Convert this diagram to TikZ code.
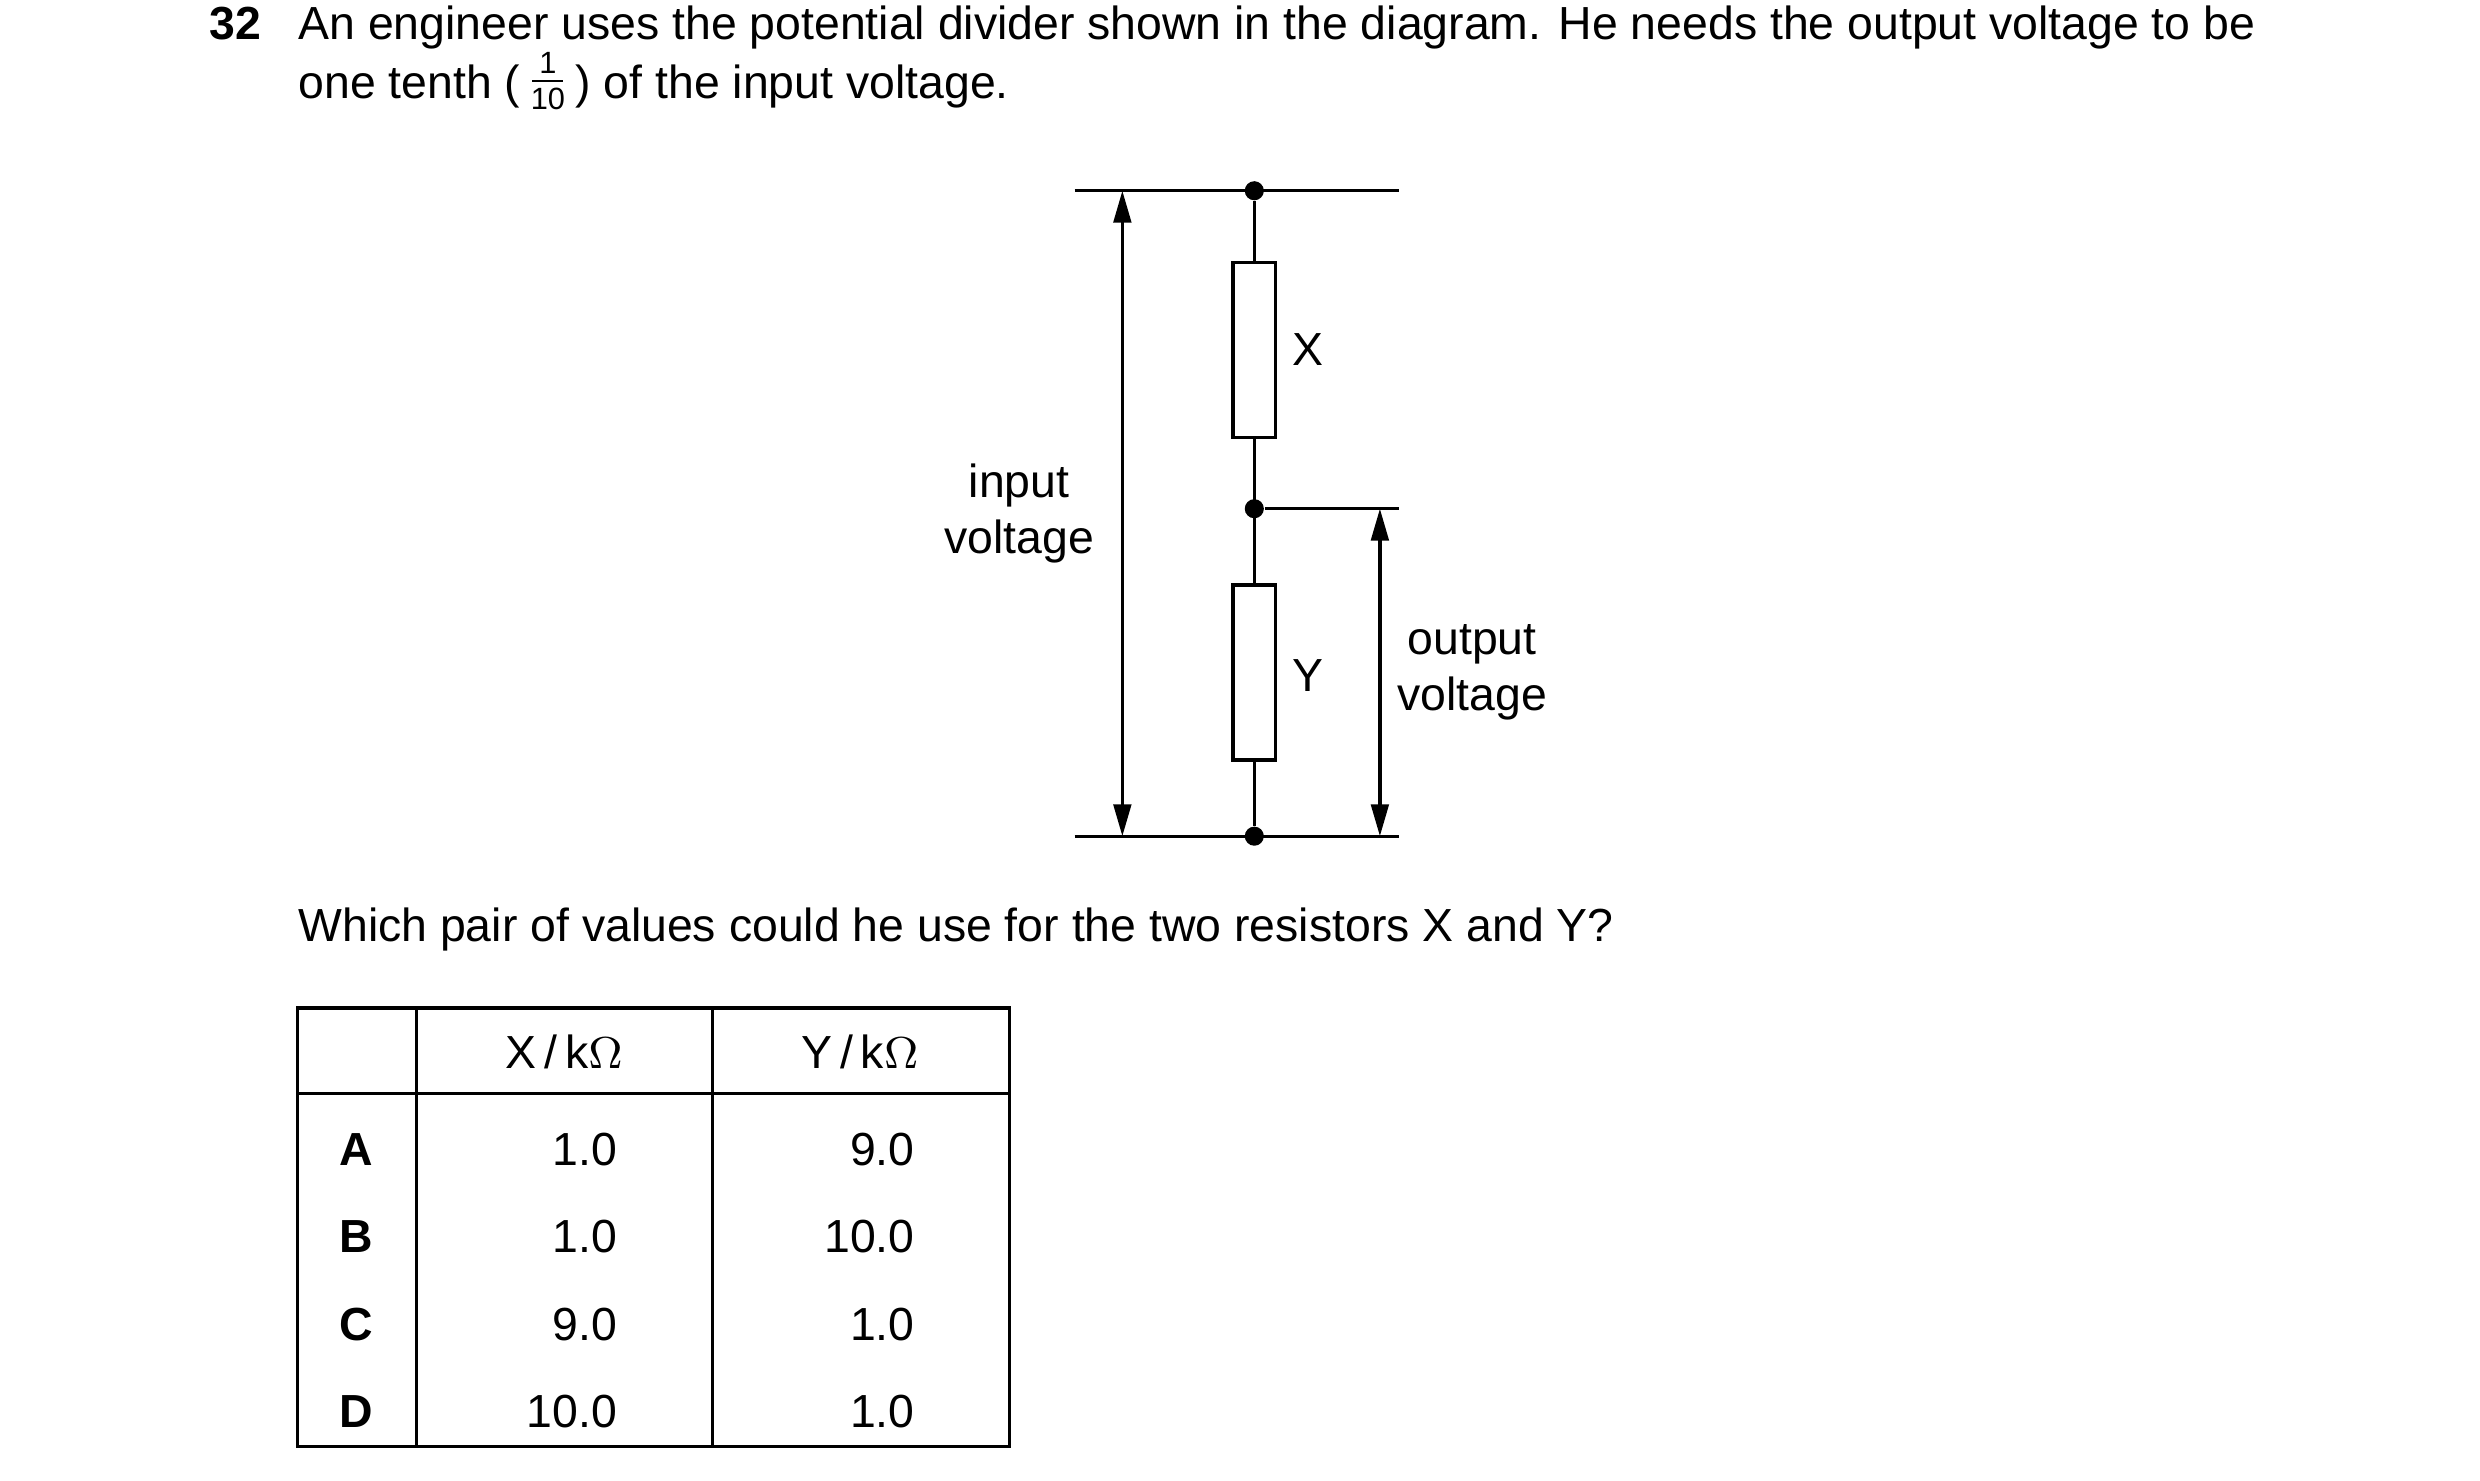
\documentclass[tikz,border=0pt]{standalone}
\usepackage{fontspec}
\setmainfont{Liberation Sans}
\usetikzlibrary{arrows.meta}
\newcommand{\tfrac}[2]{\raisebox{-0.45ex}{\tikz[baseline]{\node[inner sep=0.5pt,font=\fontsize{5.5}{6}\selectfont,align=center] (fr) {#1\\[0.5pt]#2};\draw[line width=0.3pt] ([xshift=1pt]fr.west) -- ([xshift=-1pt]fr.east);}}}
\begin{document}
\begin{tikzpicture}[x=0.01cm,y=-0.01cm,
    txt/.style={inner sep=0pt,font=\fontsize{8.3}{10}\selectfont},
    res/.style={draw,semithick,fill=white,minimum width=0.27cm,minimum height=1.1cm,inner sep=0pt},
    dot/.style={circle,fill,inner sep=0pt,minimum size=0.12cm},
    volt/.style={semithick,{Triangle[length=0.2cm,width=0.11cm]}-{Triangle[length=0.2cm,width=0.11cm]}}]
    \useasboundingbox (0,0) rectangle (1560,931.6);
    % question
    \node[txt,anchor=base west,font=\fontsize{8.3}{10}\selectfont\bfseries] (num) at (131,25) {32};
    \node[txt,anchor=base west] (q1) at (187,25) {An engineer uses the potential divider shown in the diagram. He needs the output voltage to be};
    \node[txt,anchor=base west] (q2) at (187,62) {one tenth (\,\tfrac{1}{10}\,) of the input voltage.};
    % circuit
    \node[dot] (top) at (789,120) {};
    \node[dot] (mid) at (789,320) {};
    \node[dot] (bot) at (789,526) {};
    \coordinate (tl) at (676,120);
    \coordinate (tr) at (880,120);
    \coordinate (mr) at (880,320);
    \coordinate (bl) at (676,526);
    \coordinate (br) at (880,526);
    \draw[semithick] (tl) -- (tr) (bl) -- (br) (mid) -- (mr) (top) -- (bot);
    \node[res] (rx) at (789,220) {};
    \node[res] (ry) at (789,423) {};
    \node[txt] (lx) at (823,220) {X};
    \node[txt] (ly) at (823,425) {Y};
    \coordinate (ina) at (706,120);
    \coordinate (inb) at (706,526);
    \coordinate (outa) at (868,320);
    \coordinate (outb) at (868,526);
    \draw[volt] (ina) -- (inb);
    \draw[volt] (outa) -- (outb);
    \node[txt,align=center] (lin) at (641,323) {input\\voltage};
    \node[txt,align=center] (lout) at (926,423) {output\\voltage};
    \node[txt,anchor=base west] (q3) at (187,592) {Which pair of values could he use for the two resistors X and Y?};
    % table
    \draw[semithick] (187,634) rectangle (635,910);
    \draw[semithick] (187,688) -- (635,688) (262,634) -- (262,910) (448,634) -- (448,910);
    \node[txt] (hx) at (355,662) {X\,/\,k$\Omega$};
    \node[txt] (hy) at (541,662) {Y\,/\,k$\Omega$};
    \foreach \l/\a/\b [count=\i from 0] in {A/1.0/9.0,B/1.0/10.0,C/9.0/1.0,D/10.0/1.0}{
        \node[txt,font=\fontsize{8.3}{10}\selectfont\bfseries] (l\l) at (224,723+55*\i) {\l};
        \node[txt,anchor=east] (x\l) at (389,723+55*\i) {\a};
        \node[txt,anchor=east] (y\l) at (576,723+55*\i) {\b};
    }
\end{tikzpicture}
\end{document}
